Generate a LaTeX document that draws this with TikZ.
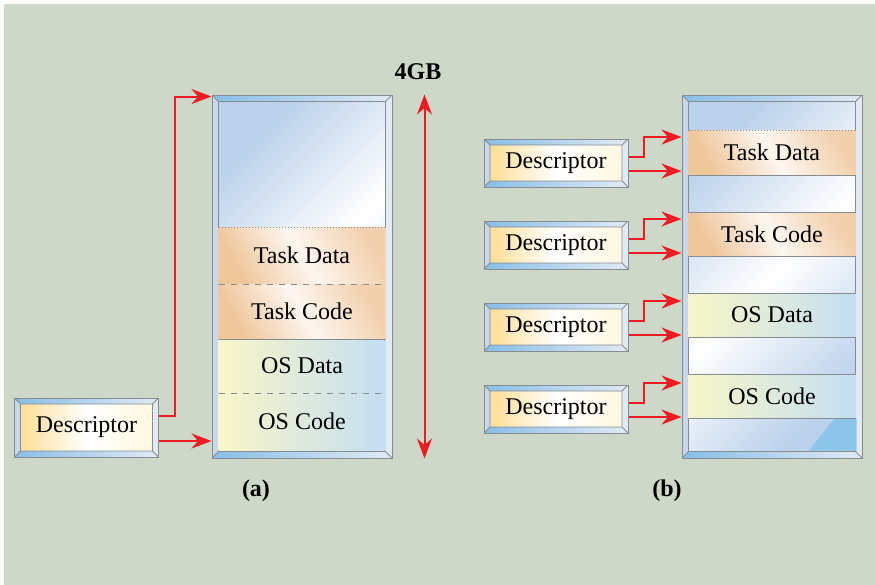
\documentclass[tikz,border=0pt]{standalone}
\usepackage{fontspec}
\setmainfont{Liberation Serif}
\usepackage{tikz}
\usetikzlibrary{
    positioning,
    arrows.meta,
    calc
}
\definecolor{bgGreen}{RGB}{205, 216, 200}
\definecolor{arrowRed}{RGB}{237, 28, 36}
\definecolor{frameGray}{RGB}{135, 140, 145}
\definecolor{bevelBlue}{RGB}{135, 190, 232}
\definecolor{bevelPale}{RGB}{226, 234, 244}
\definecolor{bevelSide}{RGB}{200, 216, 236}
\definecolor{descYellow}{RGB}{255, 222, 150}
\definecolor{descPale}{RGB}{255, 248, 225}
\definecolor{memBlue}{RGB}{188, 210, 236}
\definecolor{taskPeach}{RGB}{240, 198, 155}
\definecolor{osYellow}{RGB}{248, 246, 200}
\definecolor{osBlue}{RGB}{196, 222, 242}
\definecolor{cornerBlue}{RGB}{140, 196, 234}

\tikzset{
    facefill/.style={fill=white},
    bevel/.style={draw=frameGray, line width=0.5pt, inner sep=0pt, path picture={
        \coordinate (pNW) at (path picture bounding box.north west);
        \coordinate (pSE) at (path picture bounding box.south east);
        \coordinate (pNE) at (pSE |- pNW);
        \coordinate (pSW) at (pNW |- pSE);
        \coordinate (iNW) at ($(pNW)+(#1,-#1)$);
        \coordinate (iSE) at ($(pSE)+(-#1,#1)$);
        \coordinate (iNE) at ($(pNE)+(-#1,-#1)$);
        \coordinate (iSW) at ($(pSW)+(#1,#1)$);
        \shade[facefill] (iNW) rectangle (iSE);
        \shade[left color=bevelBlue, right color=bevelPale] (pNW) -- (pNE) -- (iNE) -- (iNW) -- cycle;
        \shade[left color=bevelBlue, right color=bevelPale] (pSW) -- (pSE) -- (iSE) -- (iSW) -- cycle;
        \fill[bevelSide] (pNW) -- (iNW) -- (iSW) -- (pSW) -- cycle;
        \fill[bevelPale] (pNE) -- (iNE) -- (iSE) -- (pSE) -- cycle;
        \draw[frameGray, line width=0.4pt] (iNW) rectangle (iSE)
            (pNW) -- (iNW) (pNE) -- (iNE) (pSW) -- (iSW) (pSE) -- (iSE);
    }},
    desc/.style={bevel=3pt, minimum width=72pt, minimum height=#1,
        facefill/.style={left color=descYellow, right color=descPale, middle color=white},
        font=\fontsize{12}{14}\selectfont},
    mem/.style={bevel=3.25pt, minimum width=90pt, minimum height=181.5pt,
        facefill/.style={left color=memBlue, right color=memBlue, middle color=white, shading angle=45}},
    sect/.style={minimum width=83.5pt, inner sep=0pt, outer sep=0pt, font=\fontsize{12}{14}\selectfont},
    taskface/.style={left color=taskPeach, right color=taskPeach!80!white, middle color=white!85!taskPeach, shading angle=120},
    osface/.style={left color=osYellow, right color=osBlue},
    sepline/.style={frameGray, line width=0.5pt},
    conn/.style={arrowRed, line width=1pt, -{Stealth[length=10pt, width=7.5pt]}},
    tag/.style={font=\fontsize{12}{14}\selectfont\bfseries}
}

\begin{document}
\begin{tikzpicture}[x=0.5pt, y=-0.5pt]
    \useasboundingbox (0,0) rectangle (875,585);
    % 背景
    \fill[bgGreen] (4,4) rectangle (875,585);

    % (a) メモリ
    \node[mem] (mema) at (302,276.5) {};
    \node[sect, taskface, minimum height=28.5pt] (tda) at (mema.center |- 0,255.5) {Task Data};
    \node[sect, taskface, minimum height=27.5pt, below=0pt of tda] (tca) {Task Code};
    \node[sect, osface, minimum height=27pt, below=0pt of tca] (osda) {OS Data};
    \node[sect, osface, minimum height=28.5pt, below=0pt of osda] (osca) {OS Code};
    \draw[sepline, densely dotted] (tda.north west) -- (tda.north east);
    \draw[sepline, dashed] (tda.south west) -- (tda.south east);
    \draw[sepline] (tca.south west) -- (tca.south east);
    \draw[sepline, dashed] (osda.south west) -- (osda.south east);

    % (a) ディスクリプタ
    \node[desc=29.5pt] (da) at (86.5,427.5) {Descriptor};
    \draw[conn] ([yshift=5.75pt]da.east) -- ++(16,0) |- ([yshift=-1pt]mema.north west);
    \draw[conn] ([yshift=-6.75pt]da.east) coordinate (dalo) -- (dalo -| mema.west);

    % 4GB
    \draw[conn, {Stealth[length=10pt, width=7.5pt]}-{Stealth[length=10pt, width=7.5pt]}]
        ([xshift=16pt]mema.north east) -- ([xshift=16pt]mema.south east);
    \node[tag] (gb) at (418,72) {4GB};

    % (b) メモリ
    \node[mem] (memb) at (772,276.5) {};
    \node[sect, taskface, minimum height=22.5pt] (tdb) at (memb.center |- 0,152.5) {Task Data};
    \node[sect, taskface, minimum height=22pt] (tcb) at (memb.center |- 0,234) {Task Code};
    \node[sect, osface, minimum height=22pt] (osdb) at (memb.center |- 0,315) {OS Data};
    \node[sect, osface, minimum height=22pt] (oscb) at (memb.center |- 0,396) {OS Code};
    \fill[cornerBlue] (809,450.5) -- (834,419) -- (856.5,419) -- (856.5,450.5) -- cycle;
    \draw[sepline, densely dotted] (tdb.north west) -- (tdb.north east);
    \draw[sepline] (tdb.south west) -- (tdb.south east);
    \foreach \s in {tcb,osdb,oscb} {
        \draw[sepline] (\s.north west) -- (\s.north east) (\s.south west) -- (\s.south east);
    }

    % (b) ディスクリプタ
    \node[desc=24pt] (db1) at (556,163) {Descriptor};
    \node[desc=24pt, below=16.5pt of db1] (db2) {Descriptor};
    \node[desc=24pt, below=16.5pt of db2] (db3) {Descriptor};
    \node[desc=24pt, below=16.5pt of db3] (db4) {Descriptor};
    \foreach \d in {db1,db2,db3,db4} {
        \path ([yshift=13pt]\d.east) coordinate (\d up);
        \draw[conn] ([yshift=3pt]\d.east) -- ++(15,0) |- (\d up -| memb.west);
        \draw[conn] ([yshift=-4pt]\d.east) coordinate (\d lo) -- (\d lo -| memb.west);
    }

    % ラベル
    \node[tag] (capa) at (256,491) {(a)};
    \node[tag] (capb) at (667,491) {(b)};
\end{tikzpicture}
\end{document}
